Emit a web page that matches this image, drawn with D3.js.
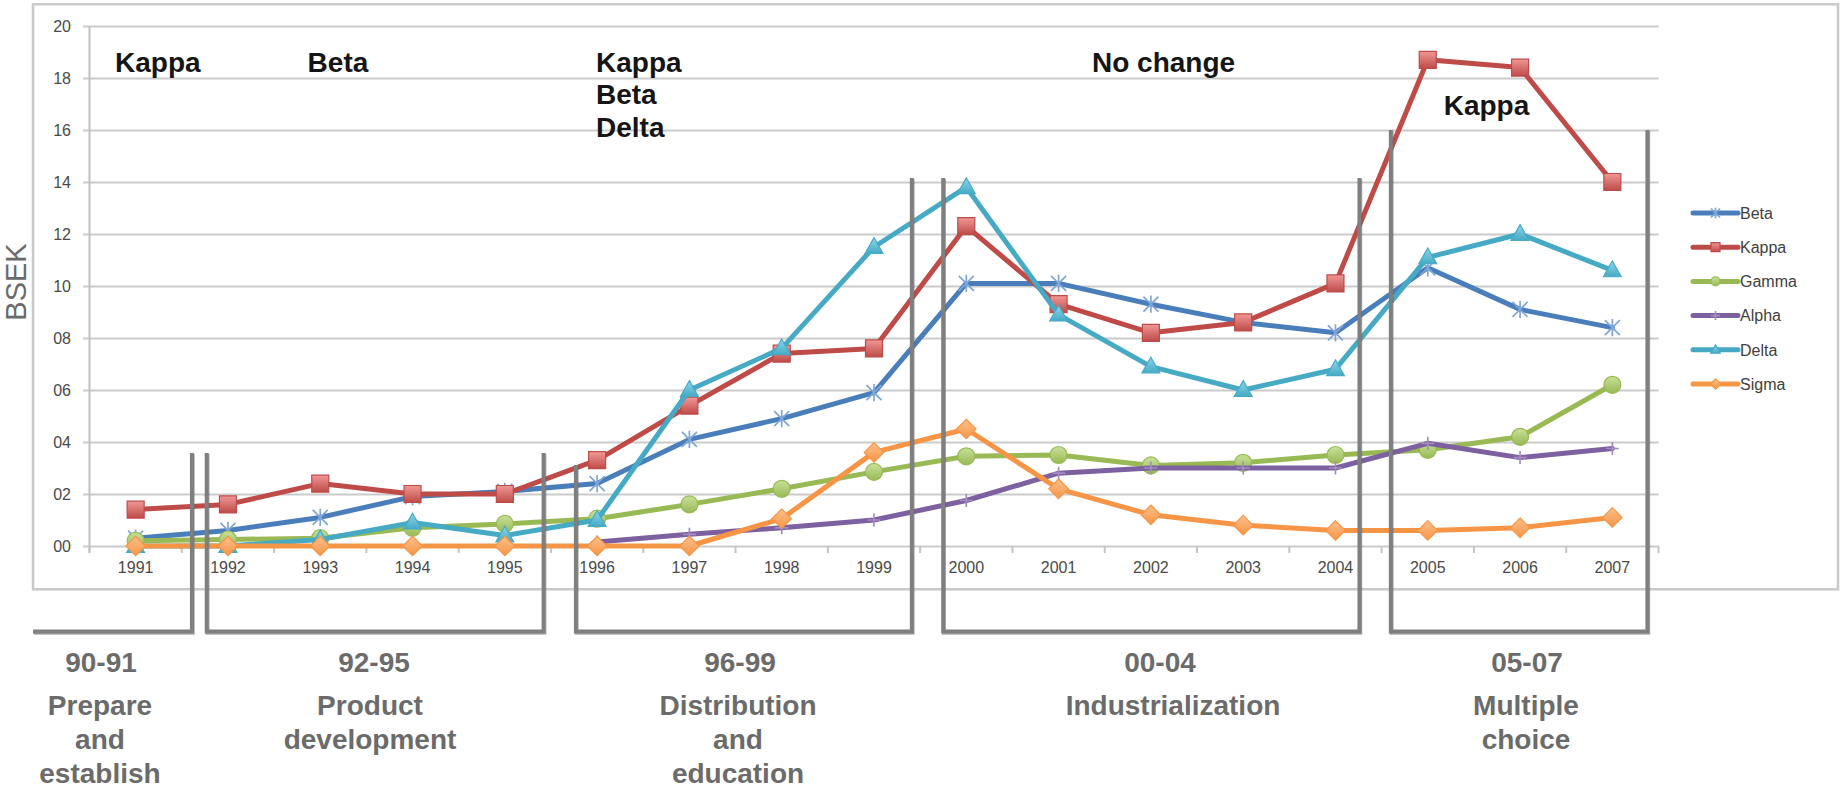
<!DOCTYPE html>
<html>
<head>
<meta charset="utf-8">
<script src="https://cdn.jsdelivr.net/npm/d3@7"></script>
<style>
  html, body { margin: 0; padding: 0; background: #ffffff; }
  svg { display: block; }
</style>
</head>
<body>
<svg id="chart" width="1843" height="789"></svg>
<script>
// ---------------- DATA ----------------
const years = ["1991","1992","1993","1994","1995","1996","1997","1998","1999","2000","2001","2002","2003","2004","2005","2006","2007"];
const seriesNames = ["Beta","Kappa","Gamma","Alpha","Delta","Sigma"];
const beta  = [0.3, 0.6, 1.1, 1.9, 2.1, 2.4, 4.1, 4.9, 5.9, 10.1, 10.1, 9.3, 8.6, 8.2, 10.7, 9.1, 8.4];
const kappa = [1.4, 1.6, 2.4, 2.0, 2.0, 3.3, 5.4, 7.4, 7.6, 12.3, 9.3, 8.2, 8.6, 10.1, 18.7, 18.4, 14.0];
const gamma = [0.2, 0.25, 0.3, 0.7, 0.85, 1.05, 1.6, 2.2, 2.85, 3.45, 3.5, 3.1, 3.2, 3.5, 3.7, 4.2, 6.2];
const alpha = [null, null, null, null, null, 0.15, 0.45, 0.7, 1.0, 1.75, 2.8, 3.0, 3.0, 3.0, 3.95, 3.4, 3.75];
const delta = [0, 0, 0.25, 0.9, 0.4, 1.0, 6.0, 7.6, 11.5, 13.8, 8.9, 6.9, 6.0, 6.8, 11.1, 12.0, 10.6];
const sigma = [0, 0, 0, 0, 0, 0, 0, 1.05, 3.6, 4.5, 2.2, 1.2, 0.8, 0.6, 0.6, 0.7, 1.1];
const yTicks = [0, 2, 4, 6, 8, 10, 12, 14, 16, 18, 20];
const yTitle = "BSEK";
// Annotation texts
const topNotes = [["Kappa"], ["Beta"], ["Kappa", "Beta", "Delta"], ["No change"], ["Kappa"]];
const phaseCodes = ["90-91", "92-95", "96-99", "00-04", "05-07"];
const phaseNames = [["Prepare", "and", "establish"], ["Product", "development"], ["Distribution", "and", "education"], ["Industrialization"], ["Multiple", "choice"]];

// ---------------- STYLE / LAYOUT ----------------
const colors = { Beta: "#4A7EBB", Kappa: "#BE4B48", Gamma: "#98B954", Alpha: "#7D60A0", Delta: "#46AAC5", Sigma: "#F69546" };
const light  = { Beta: "#7FA6D8", Kappa: "#F09896", Gamma: "#C9E19B", Alpha: "#A48CC2", Delta: "#8ED6EA", Sigma: "#FBC08C" };
const seriesValues = { Beta: beta, Kappa: kappa, Gamma: gamma, Alpha: alpha, Delta: delta, Sigma: sigma };

const svg = d3.select("#chart");
const plotL = 89.5, plotR = 1658.5, plotT = 26, plotB = 546;

const x = d3.scaleBand().domain(years).range([plotL, plotR]).paddingInner(0).paddingOuter(0);
const y = d3.scaleLinear().domain([0, 20]).range([plotB, plotT]);
const cx = d => x(d) + x.bandwidth() / 2;
// fractional-year position (for the phase brackets)
const xf = d3.scaleLinear().domain([1991, 2007]).range([cx("1991"), cx("2007")]);

// gradients
const defs = svg.append("defs");
seriesNames.forEach(n => {
  const g = defs.append("linearGradient").attr("id", "g" + n).attr("x1", 0).attr("y1", 0).attr("x2", 0).attr("y2", 1);
  g.append("stop").attr("offset", "0%").attr("stop-color", light[n]);
  g.append("stop").attr("offset", "100%").attr("stop-color", colors[n]);
});

// outer chart frame
svg.append("rect").attr("x", 33).attr("y", 4.3).attr("width", 1805).attr("height", 585)
  .attr("fill", "#fff").attr("stroke", "#c9c9c9").attr("stroke-width", 2.5);

// y axis with gridlines
const yAxis = d3.axisLeft(y).tickValues(yTicks).tickFormat(d3.format("02d"))
  .tickSize(-(plotR - 83)).tickPadding(12);
const gy = svg.append("g").attr("transform", "translate(83,0)").call(yAxis);
gy.select(".domain").remove();
gy.selectAll(".tick line").attr("stroke", "#cbcbcb").attr("stroke-width", 2);
gy.selectAll(".tick text").attr("fill", "#4a4a4a").style("font-family", "'Liberation Sans', Arial, sans-serif").style("font-size", "16px");

// y axis line
svg.append("line").attr("x1", plotL).attr("x2", plotL).attr("y1", plotT).attr("y2", plotB + 7)
  .attr("stroke", "#bfbfbf").attr("stroke-width", 2);

// x axis
const xAxis = d3.axisBottom(x).tickSize(0).tickPadding(16);
const gx = svg.append("g").attr("transform", `translate(0,${plotB})`).call(xAxis);
gx.select(".domain").remove();
gx.selectAll(".tick text").attr("fill", "#4a4a4a").style("font-family", "'Liberation Sans', Arial, sans-serif").style("font-size", "16px");
// boundary tick marks
svg.append("g").selectAll("line").data(years.concat(["end"])).join("line")
  .attr("x1", d => d === "end" ? plotR : x(d)).attr("x2", d => d === "end" ? plotR : x(d))
  .attr("y1", plotB).attr("y2", plotB + 7)
  .attr("stroke", "#c4c4c4").attr("stroke-width", 2);

// y title
svg.append("text").attr("transform", "translate(26,282) rotate(-90)")
  .attr("text-anchor", "middle").attr("fill", "#6a6a6a")
  .style("font-family", "'Liberation Sans', Arial, sans-serif").style("font-size", "29px")
  .text(yTitle);

// marker paths
const markerPath = {
  Beta:  s => `M${-s},${-s}L${s},${s}M${-s},${s}L${s},${-s}M0,${-s * 1.15}V${s * 1.15}`,
  Kappa: s => `M${-s},${-s}H${s}V${s}H${-s}Z`,
  Gamma: s => d3.symbol(d3.symbolCircle, Math.PI * s * s)(),
  Alpha: s => `M0,${-s}V${s}M${-s},0H${s}`,
  Delta: s => `M0,${-s * 1.1}L${s * 1.05},${s * 0.75}L${-s * 1.05},${s * 0.75}Z`,
  Sigma: s => `M0,${-s * 1.15}L${s * 1.15},0L0,${s * 1.15}L${-s * 1.15},0Z`
};
function drawMarker(sel, n, s) {
  if (n === "Beta" || n === "Alpha") {
    sel.attr("d", markerPath[n](s)).attr("fill", "none").attr("stroke", light[n]).attr("stroke-width", 1.7);
  } else {
    sel.attr("d", markerPath[n](s)).attr("fill", `url(#g${n})`).attr("stroke", colors[n]).attr("stroke-width", 1.2);
  }
}

// series
const line = d3.line().defined(d => d.v !== null).x(d => cx(d.year)).y(d => y(d.v));
seriesNames.forEach(n => {
  const pts = years.map((yr, i) => ({ year: yr, v: seriesValues[n][i] }));
  const g = svg.append("g").attr("class", "series-" + n);
  g.append("path").datum(pts).attr("d", line).attr("fill", "none")
    .attr("stroke", colors[n]).attr("stroke-width", 5)
    .attr("stroke-linejoin", "round").attr("stroke-linecap", "round");
  g.selectAll("path.m").data(pts.filter(d => d.v !== null)).join("path").attr("class", "m")
    .attr("transform", d => `translate(${cx(d.year)},${y(d.v)})`)
    .each(function () { drawMarker(d3.select(this), n, n === "Beta" ? 7.5 : (n === "Alpha" ? 6.5 : 8.5)); });
});

// legend
const legend = svg.append("g");
seriesNames.forEach((n, i) => {
  const ly = 213 + i * 34.2;
  legend.append("line").attr("x1", 1693).attr("x2", 1738).attr("y1", ly).attr("y2", ly)
    .attr("stroke", colors[n]).attr("stroke-width", 5).attr("stroke-linecap", "round");
  legend.append("path").attr("transform", `translate(1715.5,${ly})`)
    .each(function () { drawMarker(d3.select(this), n, 4.5); });
  legend.append("text").attr("x", 1740).attr("y", ly).attr("dy", "0.36em")
    .attr("fill", "#404040").style("font-family", "'Liberation Sans', Arial, sans-serif").style("font-size", "16px")
    .text(n);
});

// phase brackets
const barColor = "#7f7f7f";
const bracketBottom = y(-3.29);
const brackets = [
  { l: null, r: 1991.61, tl: null, tr: 3.58 },
  { l: 1991.77, r: 1995.42, tl: 3.58, tr: 3.58 },
  { l: 1995.77, r: 1999.41, tl: 3.12, tr: 14.15 },
  { l: 1999.75, r: 2004.26, tl: 14.15, tr: 14.15 },
  { l: 2004.60, r: 2007.38, tl: 16.0, tr: 16.0 }
];
const bg = svg.append("g");
brackets.forEach(b => {
  let p;
  if (b.l === null) p = `M33,${bracketBottom}H${xf(b.r)}V${y(b.tr)}`;
  else p = `M${xf(b.l)},${y(b.tl)}V${bracketBottom}H${xf(b.r)}V${y(b.tr)}`;
  bg.append("path").attr("d", p).attr("fill", "none").attr("stroke", "#5e5e5e").attr("stroke-width", 4)
    .attr("transform", "translate(0.8,1.2)").attr("opacity", 0.5);
  bg.append("path").attr("d", p).attr("fill", "none").attr("stroke", barColor).attr("stroke-width", 4);
});

// top notes
const noteX = [115, 307.6, 596, 1092, 1443.7];
const noteY = [71.7, 71.7, 71.7, 71.7, 115];
topNotes.forEach((lines, i) => {
  lines.forEach((t, j) => {
    svg.append("text").attr("x", noteX[i]).attr("y", noteY[i] + j * 32.5)
      .attr("fill", "#151515").style("font-family", "'Liberation Sans', Arial, sans-serif")
      .style("font-size", "28px").style("font-weight", "bold").text(t);
  });
});

// phase labels (code line centre, description centre)
const phaseCodeX = [101, 374, 740, 1160, 1527];
const phaseNameX = [100, 370, 738, 1173, 1526];
const lineY = [671.7, 715, 749, 783];
phaseCodes.forEach((c, i) => {
  const lines = [c].concat(phaseNames[i]);
  lines.forEach((t, j) => {
    svg.append("text").attr("x", j === 0 ? phaseCodeX[i] : phaseNameX[i]).attr("y", lineY[j]).attr("text-anchor", "middle")
      .attr("fill", "#6b6b6b").style("font-family", "'Liberation Sans', Arial, sans-serif")
      .style("font-size", "28px").style("font-weight", "bold").text(t);
  });
});
</script>
</body>
</html>
